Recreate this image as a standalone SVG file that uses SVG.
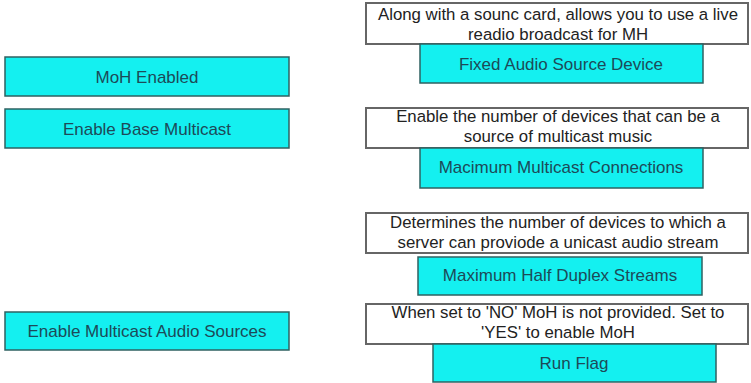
<svg xmlns="http://www.w3.org/2000/svg" width="751" height="383" viewBox="0 0 751 383">
<style>
.c{fill:#14f0f0;stroke:#2f6262;stroke-width:1.5}
.d{fill:#ffffff;stroke:#666666;stroke-width:2}
.ct{font-family:"Liberation Sans",Arial,sans-serif;font-size:17px;fill:#1d4a58;text-anchor:middle}
.dt{font-family:"Liberation Sans",Arial,sans-serif;font-size:16.8px;fill:#222222;text-anchor:middle}
</style>
<rect width="751" height="383" fill="#ffffff"/>
<g id="moh-enabled"><rect class="c" x="5" y="57" width="284" height="39"/><text class="ct" x="147" y="83">MoH Enabled</text></g>
<g id="enable-base-multicast"><rect class="c" x="5" y="109" width="284" height="39"/><text class="ct" x="147" y="135">Enable Base Multicast</text></g>
<g id="enable-multicast-audio-sources"><rect class="c" x="5" y="312" width="284" height="38"/><text class="ct" x="147" y="337">Enable Multicast Audio Sources</text></g>
<g id="desc-fixed"><rect class="d" x="366" y="3" width="382" height="41"/><text class="dt" x="558" y="20">Along with a sounc card, allows you to use a live</text><text class="dt" x="558" y="40">readio broadcast for MH</text></g>
<g id="fixed-audio-source-device"><rect class="c" x="420" y="44" width="283" height="39"/><text class="ct" x="561" y="70">Fixed Audio Source Device</text></g>
<g id="desc-multicast"><rect class="d" x="366" y="108" width="382" height="40"/><text class="dt" x="558" y="122">Enable the number of devices that can be a</text><text class="dt" x="558" y="142">source of multicast music</text></g>
<g id="macimum-multicast-connections"><rect class="c" x="420" y="148" width="283" height="40"/><text class="ct" x="561" y="173">Macimum Multicast Connections</text></g>
<g id="desc-half-duplex"><rect class="d" x="366" y="213" width="382" height="40"/><text class="dt" x="558" y="228">Determines the number of devices to which a</text><text class="dt" x="558" y="248">server can proviode a unicast audio stream</text></g>
<g id="maximum-half-duplex-streams"><rect class="c" x="418" y="257" width="284" height="38"/><text class="ct" x="560" y="281">Maximum Half Duplex Streams</text></g>
<g id="desc-run-flag"><rect class="d" x="366" y="304" width="382" height="40"/><text class="dt" x="558" y="318">When set to 'NO' MoH is not provided. Set to</text><text class="dt" x="558" y="338">'YES' to enable MoH</text></g>
<g id="run-flag"><rect class="c" x="433" y="344" width="283" height="38"/><text class="ct" x="574" y="369">Run Flag</text></g>
<g id="connectors"></g>
</svg>
